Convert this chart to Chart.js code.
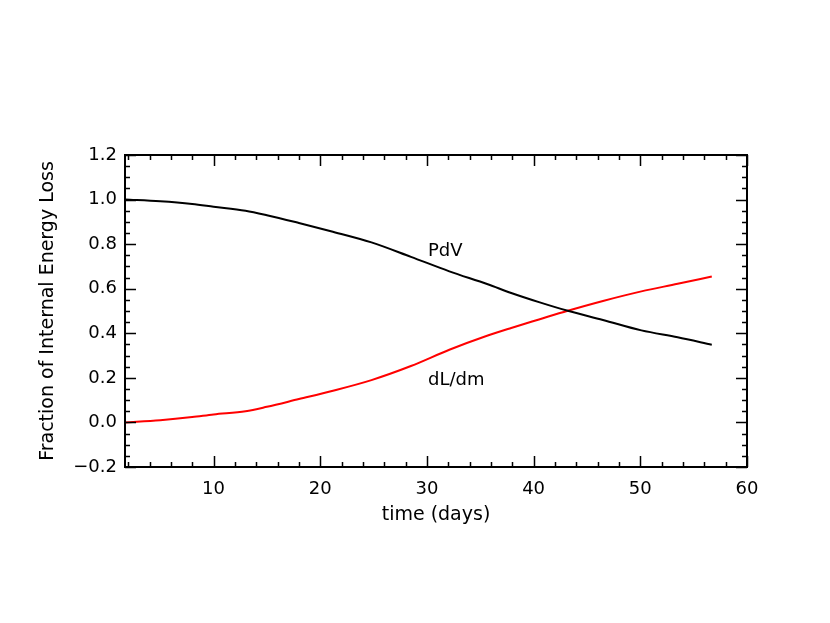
<!DOCTYPE html>
<html>
<head>
  <title>Fraction of Internal Energy Loss</title>
  <script src="https://cdn.jsdelivr.net/npm/chart.js@4/dist/chart.umd.min.js"></script>
  <style>
    body { margin: 0; background: #fff; }
    #wrap { width: 830px; height: 623px; }
  </style>
</head>
<body>
  <div id="wrap"><canvas id="chartCanvas"></canvas></div>

  <script>
    // values
    const timeDays = [1.7, 5, 8, 10, 13, 15, 18, 21, 24.8, 28.5, 32.1, 35.7, 37.9, 40.5, 43.2, 46.5, 50.1, 53.5, 56.7];
    const pdv = [1.0, 0.992, 0.980, 0.968, 0.950, 0.930, 0.895, 0.858, 0.808, 0.743, 0.678, 0.620, 0.581, 0.540, 0.501, 0.460, 0.413, 0.382, 0.349];
    const dldm = [0.0, 0.010, 0.024, 0.036, 0.050, 0.070, 0.105, 0.140, 0.190, 0.253, 0.326, 0.390, 0.424, 0.462, 0.501, 0.545, 0.588, 0.622, 0.655];
    const xTicks = [10, 20, 30, 40, 50, 60];
    const yTicks = [-0.2, 0.0, 0.2, 0.4, 0.6, 0.8, 1.0, 1.2];
    const curveLabels = [
      { text: 'PdV', x: 30.1, y: 0.748 },
      { text: 'dL/dm', x: 30.1, y: 0.169 }
    ];

    const font = { family: 'DejaVu Sans, sans-serif', size: 18 };
    const titleFont = { family: 'DejaVu Sans, sans-serif', size: 19 };

    const toPoints = (xs, ys) => xs.map((x, i) => ({ x: x, y: ys[i] }));

    // frame with inward major and minor ticks on all four sides
    const framePlugin = {
      id: 'frame',
      afterDatasetsDraw(chart) {
        const ctx = chart.ctx;
        const a = chart.chartArea;
        const xs = chart.scales.x;
        const ys = chart.scales.y;
        ctx.save();
        ctx.strokeStyle = '#000';
        ctx.lineWidth = 2;
        ctx.strokeRect(a.left, a.top, a.right - a.left, a.bottom - a.top);
        ctx.lineWidth = 1.5;
        ctx.beginPath();
        for (let v = 2; v <= 60; v += 2) {
          const px = Math.round(xs.getPixelForValue(v)) + 0.5;
          const len = v % 10 === 0 ? 11 : 5;
          ctx.moveTo(px, a.bottom); ctx.lineTo(px, a.bottom - len);
          ctx.moveTo(px, a.top); ctx.lineTo(px, a.top + len);
        }
        for (let i = -4; i <= 24; i++) {
          const v = i * 0.05;
          const py = Math.round(ys.getPixelForValue(v)) + 0.5;
          const len = i % 4 === 0 ? 11 : 5;
          ctx.moveTo(a.left, py); ctx.lineTo(a.left + len, py);
          ctx.moveTo(a.right, py); ctx.lineTo(a.right - len, py);
        }
        ctx.stroke();

        ctx.fillStyle = '#000';
        ctx.font = font.size + 'px ' + font.family;
        ctx.textAlign = 'left';
        ctx.textBaseline = 'alphabetic';
        curveLabels.forEach(l => {
          ctx.fillText(l.text, xs.getPixelForValue(l.x), ys.getPixelForValue(l.y));
        });
        ctx.restore();
      }
    };

    new Chart(document.getElementById('chartCanvas'), {
      type: 'line',
      data: {
        datasets: [
          {
            label: 'PdV',
            data: toPoints(timeDays, pdv),
            borderColor: '#000000',
            borderWidth: 2,
            pointRadius: 0,
            cubicInterpolationMode: 'monotone'
          },
          {
            label: 'dL/dm',
            data: toPoints(timeDays, dldm),
            borderColor: '#ff0000',
            borderWidth: 2,
            pointRadius: 0,
            cubicInterpolationMode: 'monotone'
          }
        ]
      },
      options: {
        responsive: true,
        maintainAspectRatio: false,
        animation: false,
        layout: { padding: { left: 0, right: 83, top: 155, bottom: 96 } },
        plugins: {
          legend: { display: false },
          tooltip: { enabled: false }
        },
        scales: {
          x: {
            type: 'linear',
            min: 1.7,
            max: 60,
            afterBuildTicks: axis => { axis.ticks = xTicks.map(v => ({ value: v })); },
            afterFit: axis => { axis.height = 60; },
            grid: { display: false, drawTicks: false },
            border: { display: false },
            ticks: { color: '#000', font: font, padding: 12, maxRotation: 0 },
            title: { display: true, text: 'time (days)', color: '#000', font: titleFont, padding: { top: 0, bottom: 1 } }
          },
          y: {
            min: -0.2,
            max: 1.2,
            afterBuildTicks: axis => { axis.ticks = yTicks.map(v => ({ value: v })); },
            afterFit: axis => { axis.width = 125; },
            grid: { display: false, drawTicks: false },
            border: { display: false },
            ticks: {
              color: '#000',
              font: font,
              padding: 8,
              callback: v => (v < 0 ? '\u2212' : '') + Math.abs(v).toFixed(1)
            },
            title: { display: true, text: 'Fraction of Internal Energy Loss', color: '#000', font: titleFont, padding: { top: 37, bottom: 0 } }
          }
        }
      },
      plugins: [framePlugin]
    });
  </script>
</body>
</html>
